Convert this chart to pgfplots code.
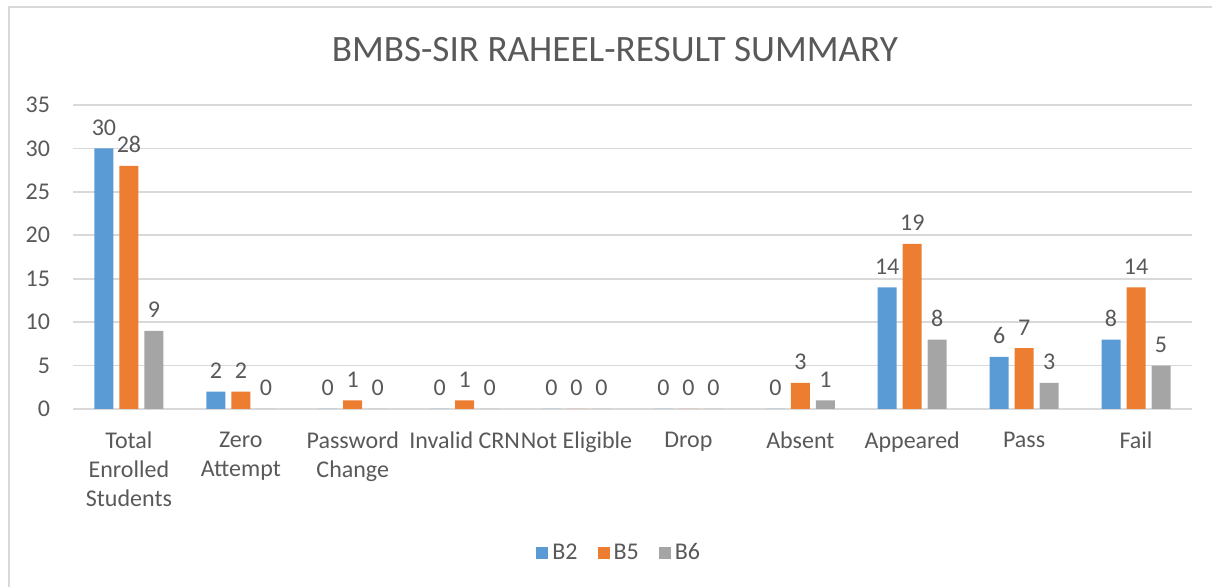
\documentclass[border=0pt]{standalone}
\usepackage{pgfplots}
\pgfplotsset{compat=1.18}
\usepackage{fontspec}
\setmainfont{Carlito}
\definecolor{cB2}{HTML}{5B9BD5}
\definecolor{cB5}{HTML}{ED7D31}
\definecolor{cB6}{HTML}{A5A5A5}
\definecolor{txt}{HTML}{595959}
\definecolor{grid}{HTML}{D9D9D9}
\begin{document}
\begin{tikzpicture}
\path[use as bounding box] (0,0) rectangle (606pt,293.5pt);
\draw[color=grid, line width=0.8pt] (4.5pt,0) -- (4.5pt,290pt) -- (606pt,290pt);
\node[text=txt, font=\fontsize{18.6}{22}\selectfont] at (307.5pt,268.5pt) {BMBS-SIR RAHEEL-RESULT SUMMARY};
\begin{axis}[
  at={(36.5pt,89pt)}, anchor=south west,
  scale only axis, width=559.5pt, height=152pt,
  ymin=0, ymax=35, ytick={0,5,...,35},
  xmin=-0.5, xmax=9.5,
  xtick={0,...,9},
  xticklabels={{Total\\Enrolled\\Students},{Zero\\Attempt},{Password\\Change},{Invalid CRN},{Not Eligible},{Drop},{Absent},{Appeared},{Pass},{Fail}},
  xticklabel style={align=center, text=txt, font=\fontsize{12}{14.5}\selectfont, yshift=-8pt},
  yticklabel style={text=txt, font=\fontsize{12}{14}\selectfont, xshift=-8pt},
  /pgf/number format/assume math mode=true,
  major tick length=0pt,
  axis line style={draw=none},
  ymajorgrids, grid style={color=grid, line width=0.8pt},
  ybar=3pt, bar width=9.5pt,
  nodes near coords,
  every node near coord/.append style={text=txt, font=\fontsize{12}{14}\selectfont, yshift=3pt},
  legend style={at={(0.489,-0.475)}, anchor=center, draw=none, legend columns=3,
    font=\fontsize{12}{14}\selectfont, text=txt,
    /tikz/every even column/.append style={column sep=8pt}},
  legend image code/.code={\draw[#1, draw=none] (0cm,-3pt) rectangle (6pt,3pt);},
]
\addplot[fill=cB2, draw=none] coordinates {(0,30) (1,2) (2,0) (3,0) (4,0) (5,0) (6,0) (7,14) (8,6) (9,8)};
\addplot[fill=cB5, draw=none] coordinates {(0,28) (1,2) (2,1) (3,1) (4,0) (5,0) (6,3) (7,19) (8,7) (9,14)};
\addplot[fill=cB6, draw=none] coordinates {(0,9) (1,0) (2,0) (3,0) (4,0) (5,0) (6,1) (7,8) (8,3) (9,5)};
\legend{B2,B5,B6}
\end{axis}
\end{tikzpicture}
\end{document}
